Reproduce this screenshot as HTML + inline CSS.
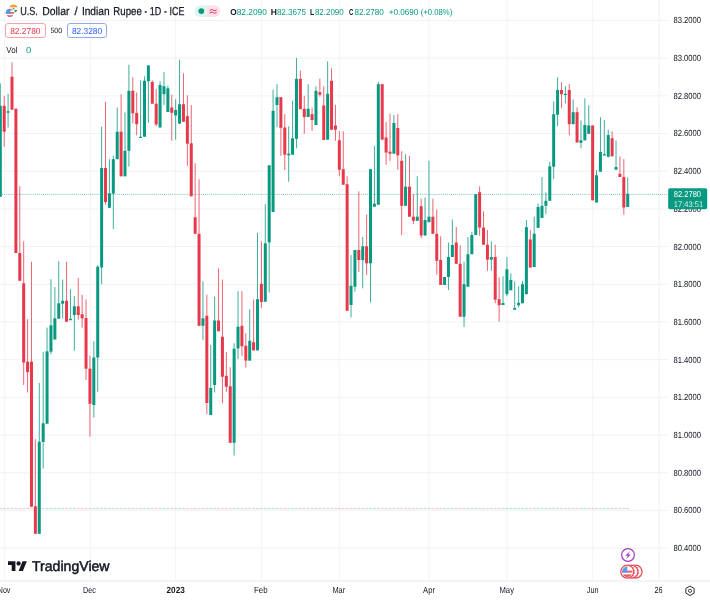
<!DOCTYPE html>
<html><head><meta charset="utf-8">
<style>
html,body{margin:0;padding:0;background:#fff;}
body{width:710px;height:600px;overflow:hidden;position:relative;font-family:"Liberation Sans",sans-serif;color:#131722;}
#chart{position:absolute;left:0;top:0;width:710px;height:600px;}
.pl{position:absolute;left:673.5px;width:38px;transform:scaleX(.935);transform-origin:0 0;height:12px;line-height:12px;font-size:8.3px;color:#131722;white-space:nowrap;}
.tl{position:absolute;top:584px;width:40px;text-align:center;height:12px;line-height:12px;font-size:8.3px;color:#131722;white-space:nowrap;}
.tl.b{font-weight:bold;}
#title{position:absolute;left:20.2px;top:3px;height:16px;line-height:16px;font-size:11.2px;color:#131722;white-space:nowrap;transform:scaleX(.955);transform-origin:0 0;-webkit-text-stroke:0.2px #131722;}
#ohlc{position:absolute;left:232px;top:5px;height:12px;line-height:12px;font-size:8.3px;color:#089981;white-space:nowrap;}
#ohlc b{color:#131722;font-weight:normal;}
#ohlc span{margin-right:3.5px;}
.btn{position:absolute;top:22.6px;height:13.7px;width:38.5px;border:1px solid;border-radius:3px;line-height:15px;font-size:8.3px;text-align:center;background:none;box-sizing:content-box;}
#sell{left:5.1px;border-color:#f7a1a9;color:#f23645;}
#buy{left:66.8px;border-color:#8fa9f5;color:#2962ff;}
#spread{position:absolute;left:46px;top:23px;width:21px;text-align:center;font-size:7.2px;line-height:15px;color:#131722;}
#vol{position:absolute;left:6px;top:43px;font-size:8.3px;line-height:12px;color:#131722;}
#vol0{position:absolute;left:26px;top:43px;font-size:8.3px;line-height:12px;color:#089981;}
#pbox{position:absolute;left:668.2px;top:188.2px;width:39px;height:21px;background:#089981;color:#fff;font-size:8.3px;line-height:9.5px;padding:1.2px 0 0 5.3px;box-sizing:border-box;border-radius:1.5px;}
#pbox div+div{color:#c9ebe4;font-size:8px;}
#pill{position:absolute;left:194.1px;top:5.1px;width:26px;height:12px;border-radius:6px;background:linear-gradient(90deg,#e0f3ef 0,#e0f3ef 50%,#fce4ec 50%,#fce4ec 100%);}
#pill i{position:absolute;left:4.5px;top:3.2px;width:5.6px;height:5.6px;border-radius:50%;background:#089981;}
#pill u{position:absolute;left:15.8px;top:0;height:12px;line-height:11px;font-size:9.5px;color:#e91e63;text-decoration:none;font-weight:bold;}
#logo{position:absolute;left:8.1px;top:559.1px;}
#logotxt{position:absolute;left:31.5px;top:556.6px;font-size:13.7px;line-height:20px;font-weight:bold;color:#131722;transform:scaleX(.975);transform-origin:0 0;}
.t{position:absolute;will-change:transform;line-height:1;white-space:nowrap;transform-origin:0 0;display:block;}
</style></head><body>
<svg id="chart" width="710" height="600" viewBox="0 0 710 600" shape-rendering="auto">
<rect x="0" y="19.95" width="668" height="1" fill="#f2f2f4"/>
<rect x="0" y="57.64" width="668" height="1" fill="#f2f2f4"/>
<rect x="0" y="95.33" width="668" height="1" fill="#f2f2f4"/>
<rect x="0" y="133.02" width="668" height="1" fill="#f2f2f4"/>
<rect x="0" y="170.71" width="668" height="1" fill="#f2f2f4"/>
<rect x="0" y="208.40" width="668" height="1" fill="#f2f2f4"/>
<rect x="0" y="246.09" width="668" height="1" fill="#f2f2f4"/>
<rect x="0" y="283.78" width="668" height="1" fill="#f2f2f4"/>
<rect x="0" y="321.47" width="668" height="1" fill="#f2f2f4"/>
<rect x="0" y="359.16" width="668" height="1" fill="#f2f2f4"/>
<rect x="0" y="396.85" width="668" height="1" fill="#f2f2f4"/>
<rect x="0" y="434.54" width="668" height="1" fill="#f2f2f4"/>
<rect x="0" y="472.23" width="668" height="1" fill="#f2f2f4"/>
<rect x="0" y="509.92" width="668" height="1" fill="#f2f2f4"/>
<rect x="0" y="547.61" width="668" height="1" fill="#f2f2f4"/>
<rect x="4.20" y="0" width="1" height="581" fill="#f4f4f6"/>
<rect x="90.00" y="0" width="1" height="581" fill="#f4f4f6"/>
<rect x="175.00" y="0" width="1" height="581" fill="#f4f4f6"/>
<rect x="261.00" y="0" width="1" height="581" fill="#f4f4f6"/>
<rect x="338.80" y="0" width="1" height="581" fill="#f4f4f6"/>
<rect x="428.50" y="0" width="1" height="581" fill="#f4f4f6"/>
<rect x="506.50" y="0" width="1" height="581" fill="#f4f4f6"/>
<rect x="592.20" y="0" width="1" height="581" fill="#f4f4f6"/>
<rect x="0" y="580.5" width="710" height="1" fill="#e8e9ed"/>
<rect x="658.6" y="0" width="1" height="581" fill="#f1f1f3"/>
<clipPath id="pl"><rect x="194.4" y="5.3" width="25.9" height="11.7" rx="5.85"/></clipPath>
<g clip-path="url(#pl)"><rect x="194" y="5" width="12.6" height="13" fill="#dff3ef"/><rect x="206.6" y="5" width="14" height="13" fill="#fce1ea"/></g>
<circle cx="201.3" cy="11.1" r="2.85" fill="#089981"/>
<!-- current price dotted line -->
<line x1="0" y1="194.4" x2="667.5" y2="194.4" stroke="#089981" stroke-width="1" stroke-dasharray="1 1.05" opacity=".55"/>
<rect x="-1.20" y="508.1" width="3.0" height="1" fill="#089981" opacity=".3"/>
<rect x="2.70" y="508.1" width="3.0" height="1" fill="#e8384b" opacity=".3"/>
<rect x="6.59" y="508.1" width="3.0" height="1" fill="#089981" opacity=".3"/>
<rect x="10.49" y="508.1" width="3.0" height="1" fill="#e8384b" opacity=".3"/>
<rect x="14.39" y="508.1" width="3.0" height="1" fill="#e8384b" opacity=".3"/>
<rect x="18.29" y="508.1" width="3.0" height="1" fill="#e8384b" opacity=".3"/>
<rect x="22.18" y="508.1" width="3.0" height="1" fill="#e8384b" opacity=".3"/>
<rect x="26.08" y="508.1" width="3.0" height="1" fill="#e8384b" opacity=".3"/>
<rect x="29.98" y="508.1" width="3.0" height="1" fill="#e8384b" opacity=".3"/>
<rect x="33.87" y="508.1" width="3.0" height="1" fill="#e8384b" opacity=".3"/>
<rect x="37.77" y="508.1" width="3.0" height="1" fill="#089981" opacity=".3"/>
<rect x="41.67" y="508.1" width="3.0" height="1" fill="#089981" opacity=".3"/>
<rect x="45.56" y="508.1" width="3.0" height="1" fill="#089981" opacity=".3"/>
<rect x="49.46" y="508.1" width="3.0" height="1" fill="#089981" opacity=".3"/>
<rect x="53.36" y="508.1" width="3.0" height="1" fill="#089981" opacity=".3"/>
<rect x="57.25" y="508.1" width="3.0" height="1" fill="#089981" opacity=".3"/>
<rect x="61.15" y="508.1" width="3.0" height="1" fill="#089981" opacity=".3"/>
<rect x="65.05" y="508.1" width="3.0" height="1" fill="#e8384b" opacity=".3"/>
<rect x="68.95" y="508.1" width="3.0" height="1" fill="#089981" opacity=".3"/>
<rect x="72.84" y="508.1" width="3.0" height="1" fill="#089981" opacity=".3"/>
<rect x="76.74" y="508.1" width="3.0" height="1" fill="#e8384b" opacity=".3"/>
<rect x="80.64" y="508.1" width="3.0" height="1" fill="#e8384b" opacity=".3"/>
<rect x="84.53" y="508.1" width="3.0" height="1" fill="#e8384b" opacity=".3"/>
<rect x="88.43" y="508.1" width="3.0" height="1" fill="#e8384b" opacity=".3"/>
<rect x="92.33" y="508.1" width="3.0" height="1" fill="#089981" opacity=".3"/>
<rect x="96.22" y="508.1" width="3.0" height="1" fill="#089981" opacity=".3"/>
<rect x="100.12" y="508.1" width="3.0" height="1" fill="#089981" opacity=".3"/>
<rect x="104.02" y="508.1" width="3.0" height="1" fill="#e8384b" opacity=".3"/>
<rect x="107.92" y="508.1" width="3.0" height="1" fill="#089981" opacity=".3"/>
<rect x="111.81" y="508.1" width="3.0" height="1" fill="#089981" opacity=".3"/>
<rect x="115.71" y="508.1" width="3.0" height="1" fill="#089981" opacity=".3"/>
<rect x="119.61" y="508.1" width="3.0" height="1" fill="#e8384b" opacity=".3"/>
<rect x="123.50" y="508.1" width="3.0" height="1" fill="#089981" opacity=".3"/>
<rect x="127.40" y="508.1" width="3.0" height="1" fill="#089981" opacity=".3"/>
<rect x="131.30" y="508.1" width="3.0" height="1" fill="#e8384b" opacity=".3"/>
<rect x="135.19" y="508.1" width="3.0" height="1" fill="#e8384b" opacity=".3"/>
<rect x="139.09" y="508.1" width="3.0" height="1" fill="#089981" opacity=".3"/>
<rect x="142.99" y="508.1" width="3.0" height="1" fill="#089981" opacity=".3"/>
<rect x="146.89" y="508.1" width="3.0" height="1" fill="#089981" opacity=".3"/>
<rect x="150.78" y="508.1" width="3.0" height="1" fill="#e8384b" opacity=".3"/>
<rect x="154.68" y="508.1" width="3.0" height="1" fill="#e8384b" opacity=".3"/>
<rect x="158.58" y="508.1" width="3.0" height="1" fill="#089981" opacity=".3"/>
<rect x="162.47" y="508.1" width="3.0" height="1" fill="#089981" opacity=".3"/>
<rect x="166.37" y="508.1" width="3.0" height="1" fill="#089981" opacity=".3"/>
<rect x="170.27" y="508.1" width="3.0" height="1" fill="#e8384b" opacity=".3"/>
<rect x="174.16" y="508.1" width="3.0" height="1" fill="#089981" opacity=".3"/>
<rect x="178.06" y="508.1" width="3.0" height="1" fill="#089981" opacity=".3"/>
<rect x="181.96" y="508.1" width="3.0" height="1" fill="#e8384b" opacity=".3"/>
<rect x="185.86" y="508.1" width="3.0" height="1" fill="#e8384b" opacity=".3"/>
<rect x="189.75" y="508.1" width="3.0" height="1" fill="#e8384b" opacity=".3"/>
<rect x="193.65" y="508.1" width="3.0" height="1" fill="#e8384b" opacity=".3"/>
<rect x="197.55" y="508.1" width="3.0" height="1" fill="#e8384b" opacity=".3"/>
<rect x="201.44" y="508.1" width="3.0" height="1" fill="#089981" opacity=".3"/>
<rect x="205.34" y="508.1" width="3.0" height="1" fill="#e8384b" opacity=".3"/>
<rect x="209.24" y="508.1" width="3.0" height="1" fill="#089981" opacity=".3"/>
<rect x="213.13" y="508.1" width="3.0" height="1" fill="#089981" opacity=".3"/>
<rect x="217.03" y="508.1" width="3.0" height="1" fill="#e8384b" opacity=".3"/>
<rect x="220.93" y="508.1" width="3.0" height="1" fill="#e8384b" opacity=".3"/>
<rect x="224.83" y="508.1" width="3.0" height="1" fill="#e8384b" opacity=".3"/>
<rect x="228.72" y="508.1" width="3.0" height="1" fill="#e8384b" opacity=".3"/>
<rect x="232.62" y="508.1" width="3.0" height="1" fill="#089981" opacity=".3"/>
<rect x="236.52" y="508.1" width="3.0" height="1" fill="#089981" opacity=".3"/>
<rect x="240.41" y="508.1" width="3.0" height="1" fill="#e8384b" opacity=".3"/>
<rect x="244.31" y="508.1" width="3.0" height="1" fill="#e8384b" opacity=".3"/>
<rect x="248.21" y="508.1" width="3.0" height="1" fill="#089981" opacity=".3"/>
<rect x="252.10" y="508.1" width="3.0" height="1" fill="#e8384b" opacity=".3"/>
<rect x="256.00" y="508.1" width="3.0" height="1" fill="#089981" opacity=".3"/>
<rect x="259.90" y="508.1" width="3.0" height="1" fill="#e8384b" opacity=".3"/>
<rect x="263.80" y="508.1" width="3.0" height="1" fill="#089981" opacity=".3"/>
<rect x="267.69" y="508.1" width="3.0" height="1" fill="#089981" opacity=".3"/>
<rect x="271.59" y="508.1" width="3.0" height="1" fill="#089981" opacity=".3"/>
<rect x="275.49" y="508.1" width="3.0" height="1" fill="#089981" opacity=".3"/>
<rect x="279.38" y="508.1" width="3.0" height="1" fill="#e8384b" opacity=".3"/>
<rect x="283.28" y="508.1" width="3.0" height="1" fill="#e8384b" opacity=".3"/>
<rect x="287.18" y="508.1" width="3.0" height="1" fill="#089981" opacity=".3"/>
<rect x="291.07" y="508.1" width="3.0" height="1" fill="#089981" opacity=".3"/>
<rect x="294.97" y="508.1" width="3.0" height="1" fill="#089981" opacity=".3"/>
<rect x="298.87" y="508.1" width="3.0" height="1" fill="#e8384b" opacity=".3"/>
<rect x="302.77" y="508.1" width="3.0" height="1" fill="#e8384b" opacity=".3"/>
<rect x="306.66" y="508.1" width="3.0" height="1" fill="#089981" opacity=".3"/>
<rect x="310.56" y="508.1" width="3.0" height="1" fill="#e8384b" opacity=".3"/>
<rect x="314.46" y="508.1" width="3.0" height="1" fill="#089981" opacity=".3"/>
<rect x="318.35" y="508.1" width="3.0" height="1" fill="#e8384b" opacity=".3"/>
<rect x="322.25" y="508.1" width="3.0" height="1" fill="#e8384b" opacity=".3"/>
<rect x="326.15" y="508.1" width="3.0" height="1" fill="#089981" opacity=".3"/>
<rect x="330.05" y="508.1" width="3.0" height="1" fill="#e8384b" opacity=".3"/>
<rect x="333.94" y="508.1" width="3.0" height="1" fill="#e8384b" opacity=".3"/>
<rect x="337.84" y="508.1" width="3.0" height="1" fill="#e8384b" opacity=".3"/>
<rect x="341.74" y="508.1" width="3.0" height="1" fill="#e8384b" opacity=".3"/>
<rect x="345.63" y="508.1" width="3.0" height="1" fill="#e8384b" opacity=".3"/>
<rect x="349.53" y="508.1" width="3.0" height="1" fill="#089981" opacity=".3"/>
<rect x="353.43" y="508.1" width="3.0" height="1" fill="#089981" opacity=".3"/>
<rect x="357.32" y="508.1" width="3.0" height="1" fill="#e8384b" opacity=".3"/>
<rect x="361.22" y="508.1" width="3.0" height="1" fill="#089981" opacity=".3"/>
<rect x="365.12" y="508.1" width="3.0" height="1" fill="#e8384b" opacity=".3"/>
<rect x="369.01" y="508.1" width="3.0" height="1" fill="#089981" opacity=".3"/>
<rect x="372.91" y="508.1" width="3.0" height="1" fill="#089981" opacity=".3"/>
<rect x="376.81" y="508.1" width="3.0" height="1" fill="#089981" opacity=".3"/>
<rect x="380.71" y="508.1" width="3.0" height="1" fill="#e8384b" opacity=".3"/>
<rect x="384.60" y="508.1" width="3.0" height="1" fill="#e8384b" opacity=".3"/>
<rect x="388.50" y="508.1" width="3.0" height="1" fill="#e8384b" opacity=".3"/>
<rect x="392.40" y="508.1" width="3.0" height="1" fill="#089981" opacity=".3"/>
<rect x="396.29" y="508.1" width="3.0" height="1" fill="#e8384b" opacity=".3"/>
<rect x="400.19" y="508.1" width="3.0" height="1" fill="#e8384b" opacity=".3"/>
<rect x="404.09" y="508.1" width="3.0" height="1" fill="#089981" opacity=".3"/>
<rect x="407.99" y="508.1" width="3.0" height="1" fill="#e8384b" opacity=".3"/>
<rect x="411.88" y="508.1" width="3.0" height="1" fill="#e8384b" opacity=".3"/>
<rect x="415.78" y="508.1" width="3.0" height="1" fill="#089981" opacity=".3"/>
<rect x="419.68" y="508.1" width="3.0" height="1" fill="#e8384b" opacity=".3"/>
<rect x="423.57" y="508.1" width="3.0" height="1" fill="#089981" opacity=".3"/>
<rect x="427.47" y="508.1" width="3.0" height="1" fill="#089981" opacity=".3"/>
<rect x="431.37" y="508.1" width="3.0" height="1" fill="#e8384b" opacity=".3"/>
<rect x="435.26" y="508.1" width="3.0" height="1" fill="#e8384b" opacity=".3"/>
<rect x="439.16" y="508.1" width="3.0" height="1" fill="#e8384b" opacity=".3"/>
<rect x="443.06" y="508.1" width="3.0" height="1" fill="#089981" opacity=".3"/>
<rect x="446.95" y="508.1" width="3.0" height="1" fill="#089981" opacity=".3"/>
<rect x="450.85" y="508.1" width="3.0" height="1" fill="#089981" opacity=".3"/>
<rect x="454.75" y="508.1" width="3.0" height="1" fill="#e8384b" opacity=".3"/>
<rect x="458.65" y="508.1" width="3.0" height="1" fill="#e8384b" opacity=".3"/>
<rect x="462.54" y="508.1" width="3.0" height="1" fill="#089981" opacity=".3"/>
<rect x="466.44" y="508.1" width="3.0" height="1" fill="#089981" opacity=".3"/>
<rect x="470.34" y="508.1" width="3.0" height="1" fill="#089981" opacity=".3"/>
<rect x="474.23" y="508.1" width="3.0" height="1" fill="#089981" opacity=".3"/>
<rect x="478.13" y="508.1" width="3.0" height="1" fill="#e8384b" opacity=".3"/>
<rect x="482.03" y="508.1" width="3.0" height="1" fill="#e8384b" opacity=".3"/>
<rect x="485.93" y="508.1" width="3.0" height="1" fill="#e8384b" opacity=".3"/>
<rect x="489.82" y="508.1" width="3.0" height="1" fill="#089981" opacity=".3"/>
<rect x="493.72" y="508.1" width="3.0" height="1" fill="#e8384b" opacity=".3"/>
<rect x="497.62" y="508.1" width="3.0" height="1" fill="#e8384b" opacity=".3"/>
<rect x="501.51" y="508.1" width="3.0" height="1" fill="#089981" opacity=".3"/>
<rect x="505.41" y="508.1" width="3.0" height="1" fill="#089981" opacity=".3"/>
<rect x="509.31" y="508.1" width="3.0" height="1" fill="#089981" opacity=".3"/>
<rect x="513.20" y="508.1" width="3.0" height="1" fill="#089981" opacity=".3"/>
<rect x="517.10" y="508.1" width="3.0" height="1" fill="#089981" opacity=".3"/>
<rect x="521.00" y="508.1" width="3.0" height="1" fill="#089981" opacity=".3"/>
<rect x="524.89" y="508.1" width="3.0" height="1" fill="#089981" opacity=".3"/>
<rect x="528.79" y="508.1" width="3.0" height="1" fill="#e8384b" opacity=".3"/>
<rect x="532.69" y="508.1" width="3.0" height="1" fill="#089981" opacity=".3"/>
<rect x="536.59" y="508.1" width="3.0" height="1" fill="#089981" opacity=".3"/>
<rect x="540.48" y="508.1" width="3.0" height="1" fill="#089981" opacity=".3"/>
<rect x="544.38" y="508.1" width="3.0" height="1" fill="#089981" opacity=".3"/>
<rect x="548.28" y="508.1" width="3.0" height="1" fill="#089981" opacity=".3"/>
<rect x="552.17" y="508.1" width="3.0" height="1" fill="#089981" opacity=".3"/>
<rect x="556.07" y="508.1" width="3.0" height="1" fill="#089981" opacity=".3"/>
<rect x="559.97" y="508.1" width="3.0" height="1" fill="#e8384b" opacity=".3"/>
<rect x="563.86" y="508.1" width="3.0" height="1" fill="#089981" opacity=".3"/>
<rect x="567.76" y="508.1" width="3.0" height="1" fill="#e8384b" opacity=".3"/>
<rect x="571.66" y="508.1" width="3.0" height="1" fill="#089981" opacity=".3"/>
<rect x="575.56" y="508.1" width="3.0" height="1" fill="#e8384b" opacity=".3"/>
<rect x="579.45" y="508.1" width="3.0" height="1" fill="#089981" opacity=".3"/>
<rect x="583.35" y="508.1" width="3.0" height="1" fill="#089981" opacity=".3"/>
<rect x="587.25" y="508.1" width="3.0" height="1" fill="#089981" opacity=".3"/>
<rect x="591.14" y="508.1" width="3.0" height="1" fill="#e8384b" opacity=".3"/>
<rect x="595.04" y="508.1" width="3.0" height="1" fill="#089981" opacity=".3"/>
<rect x="598.94" y="508.1" width="3.0" height="1" fill="#089981" opacity=".3"/>
<rect x="602.83" y="508.1" width="3.0" height="1" fill="#089981" opacity=".3"/>
<rect x="606.73" y="508.1" width="3.0" height="1" fill="#089981" opacity=".3"/>
<rect x="610.63" y="508.1" width="3.0" height="1" fill="#e8384b" opacity=".3"/>
<rect x="614.53" y="508.1" width="3.0" height="1" fill="#089981" opacity=".3"/>
<rect x="618.42" y="508.1" width="3.0" height="1" fill="#e8384b" opacity=".3"/>
<rect x="622.32" y="508.1" width="3.0" height="1" fill="#e8384b" opacity=".3"/>
<rect x="626.22" y="508.1" width="3.0" height="1" fill="#089981" opacity=".3"/>
<rect x="-0.20" y="83.3" width="1" height="113.4" fill="#089981" opacity=".78"/>
<rect x="-1.20" y="105.8" width="3.0" height="90.9" fill="#089981"/>
<rect x="3.70" y="95.8" width="1" height="50.9" fill="#e8384b" opacity=".78"/>
<rect x="2.70" y="105.8" width="3.0" height="25.9" fill="#e8384b"/>
<rect x="7.59" y="93.7" width="1" height="33.8" fill="#089981" opacity=".78"/>
<rect x="6.59" y="111.3" width="3.0" height="1.4" fill="#089981"/>
<rect x="11.49" y="62.5" width="1" height="47.2" fill="#e8384b" opacity=".78"/>
<rect x="10.49" y="76.7" width="3.0" height="33.0" fill="#e8384b"/>
<rect x="15.39" y="108.7" width="1" height="144.3" fill="#e8384b" opacity=".78"/>
<rect x="14.39" y="108.7" width="3.0" height="144.3" fill="#e8384b"/>
<rect x="19.29" y="186.3" width="1" height="94.5" fill="#e8384b" opacity=".78"/>
<rect x="18.29" y="253.0" width="3.0" height="27.8" fill="#e8384b"/>
<rect x="23.18" y="241.3" width="1" height="143.7" fill="#e8384b" opacity=".78"/>
<rect x="22.18" y="283.3" width="3.0" height="79.2" fill="#e8384b"/>
<rect x="27.08" y="319.2" width="1" height="73.3" fill="#e8384b" opacity=".78"/>
<rect x="26.08" y="361.7" width="3.0" height="10.5" fill="#e8384b"/>
<rect x="30.98" y="261.7" width="1" height="245.0" fill="#e8384b" opacity=".78"/>
<rect x="29.98" y="361.7" width="3.0" height="145.0" fill="#e8384b"/>
<rect x="34.87" y="439.2" width="1" height="94.6" fill="#e8384b" opacity=".78"/>
<rect x="33.87" y="506.3" width="3.0" height="27.5" fill="#e8384b"/>
<rect x="38.77" y="383.0" width="1" height="150.8" fill="#089981" opacity=".78"/>
<rect x="37.77" y="441.7" width="3.0" height="92.1" fill="#089981"/>
<rect x="42.67" y="351.7" width="1" height="117.0" fill="#089981" opacity=".78"/>
<rect x="41.67" y="423.3" width="3.0" height="18.7" fill="#089981"/>
<rect x="46.56" y="327.5" width="1" height="96.2" fill="#089981" opacity=".78"/>
<rect x="45.56" y="351.3" width="3.0" height="72.4" fill="#089981"/>
<rect x="50.46" y="279.2" width="1" height="75.0" fill="#089981" opacity=".78"/>
<rect x="49.46" y="325.3" width="3.0" height="26.4" fill="#089981"/>
<rect x="54.36" y="287.0" width="1" height="52.5" fill="#089981" opacity=".78"/>
<rect x="53.36" y="318.3" width="3.0" height="21.2" fill="#089981"/>
<rect x="58.25" y="261.2" width="1" height="57.5" fill="#089981" opacity=".78"/>
<rect x="57.25" y="303.3" width="3.0" height="15.4" fill="#089981"/>
<rect x="62.15" y="279.5" width="1" height="38.8" fill="#089981" opacity=".78"/>
<rect x="61.15" y="300.8" width="3.0" height="2.9" fill="#089981"/>
<rect x="66.05" y="261.7" width="1" height="60.0" fill="#e8384b" opacity=".78"/>
<rect x="65.05" y="300.8" width="3.0" height="20.9" fill="#e8384b"/>
<rect x="69.95" y="289.2" width="1" height="31.0" fill="#089981" opacity=".78"/>
<rect x="68.95" y="318.8" width="3.0" height="1.4" fill="#089981"/>
<rect x="73.84" y="296.2" width="1" height="54.6" fill="#089981" opacity=".78"/>
<rect x="72.84" y="306.3" width="3.0" height="8.7" fill="#089981"/>
<rect x="77.74" y="278.0" width="1" height="41.7" fill="#e8384b" opacity=".78"/>
<rect x="76.74" y="306.3" width="3.0" height="8.7" fill="#e8384b"/>
<rect x="81.64" y="294.7" width="1" height="32.8" fill="#e8384b" opacity=".78"/>
<rect x="80.64" y="314.2" width="3.0" height="4.1" fill="#e8384b"/>
<rect x="85.53" y="299.5" width="1" height="80.5" fill="#e8384b" opacity=".78"/>
<rect x="84.53" y="318.0" width="3.0" height="50.7" fill="#e8384b"/>
<rect x="89.43" y="355.8" width="1" height="80.9" fill="#e8384b" opacity=".78"/>
<rect x="88.43" y="368.7" width="3.0" height="35.1" fill="#e8384b"/>
<rect x="93.33" y="341.2" width="1" height="76.3" fill="#089981" opacity=".78"/>
<rect x="92.33" y="357.5" width="3.0" height="47.5" fill="#089981"/>
<rect x="97.22" y="265.0" width="1" height="126.7" fill="#089981" opacity=".78"/>
<rect x="96.22" y="266.7" width="3.0" height="90.8" fill="#089981"/>
<rect x="101.12" y="126.7" width="1" height="157.5" fill="#089981" opacity=".78"/>
<rect x="100.12" y="168.0" width="3.0" height="99.5" fill="#089981"/>
<rect x="105.02" y="102.0" width="1" height="102.7" fill="#e8384b" opacity=".78"/>
<rect x="104.02" y="168.0" width="3.0" height="34.0" fill="#e8384b"/>
<rect x="108.92" y="159.2" width="1" height="48.6" fill="#089981" opacity=".78"/>
<rect x="107.92" y="193.3" width="3.0" height="14.5" fill="#089981"/>
<rect x="112.81" y="155.8" width="1" height="73.4" fill="#089981" opacity=".78"/>
<rect x="111.81" y="159.2" width="3.0" height="34.5" fill="#089981"/>
<rect x="116.71" y="107.5" width="1" height="51.7" fill="#089981" opacity=".78"/>
<rect x="115.71" y="131.7" width="3.0" height="27.5" fill="#089981"/>
<rect x="120.61" y="94.2" width="1" height="82.1" fill="#e8384b" opacity=".78"/>
<rect x="119.61" y="131.7" width="3.0" height="44.6" fill="#e8384b"/>
<rect x="124.50" y="112.5" width="1" height="63.8" fill="#089981" opacity=".78"/>
<rect x="123.50" y="150.8" width="3.0" height="25.5" fill="#089981"/>
<rect x="128.40" y="64.7" width="1" height="102.0" fill="#089981" opacity=".78"/>
<rect x="127.40" y="90.8" width="3.0" height="60.0" fill="#089981"/>
<rect x="132.30" y="77.5" width="1" height="45.8" fill="#e8384b" opacity=".78"/>
<rect x="131.30" y="90.8" width="3.0" height="22.5" fill="#e8384b"/>
<rect x="136.19" y="92.5" width="1" height="42.8" fill="#e8384b" opacity=".78"/>
<rect x="135.19" y="113.0" width="3.0" height="11.2" fill="#e8384b"/>
<rect x="140.09" y="80.3" width="1" height="57.7" fill="#089981" opacity=".78"/>
<rect x="139.09" y="136.8" width="3.0" height="1.2" fill="#089981"/>
<rect x="143.99" y="76.3" width="1" height="60.4" fill="#089981" opacity=".78"/>
<rect x="142.99" y="80.8" width="3.0" height="55.9" fill="#089981"/>
<rect x="147.89" y="65.0" width="1" height="57.8" fill="#089981" opacity=".78"/>
<rect x="146.89" y="65.5" width="3.0" height="15.7" fill="#089981"/>
<rect x="151.78" y="80.3" width="1" height="23.4" fill="#e8384b" opacity=".78"/>
<rect x="150.78" y="82.0" width="3.0" height="21.7" fill="#e8384b"/>
<rect x="155.68" y="89.2" width="1" height="37.1" fill="#e8384b" opacity=".78"/>
<rect x="154.68" y="103.7" width="3.0" height="20.8" fill="#e8384b"/>
<rect x="159.58" y="81.2" width="1" height="46.3" fill="#089981" opacity=".78"/>
<rect x="158.58" y="85.0" width="3.0" height="42.5" fill="#089981"/>
<rect x="163.47" y="72.0" width="1" height="33.0" fill="#089981" opacity=".78"/>
<rect x="162.47" y="86.2" width="3.0" height="8.0" fill="#089981"/>
<rect x="167.37" y="85.8" width="1" height="26.2" fill="#089981" opacity=".78"/>
<rect x="166.37" y="88.3" width="3.0" height="23.7" fill="#089981"/>
<rect x="171.27" y="94.7" width="1" height="46.1" fill="#e8384b" opacity=".78"/>
<rect x="170.27" y="107.5" width="3.0" height="5.3" fill="#e8384b"/>
<rect x="175.16" y="99.2" width="1" height="40.5" fill="#089981" opacity=".78"/>
<rect x="174.16" y="110.0" width="3.0" height="5.5" fill="#089981"/>
<rect x="179.06" y="59.7" width="1" height="64.0" fill="#089981" opacity=".78"/>
<rect x="178.06" y="104.2" width="3.0" height="19.5" fill="#089981"/>
<rect x="182.96" y="73.3" width="1" height="48.4" fill="#e8384b" opacity=".78"/>
<rect x="181.96" y="104.2" width="3.0" height="17.5" fill="#e8384b"/>
<rect x="186.86" y="95.3" width="1" height="70.5" fill="#e8384b" opacity=".78"/>
<rect x="185.86" y="116.2" width="3.0" height="27.5" fill="#e8384b"/>
<rect x="190.75" y="105.0" width="1" height="91.3" fill="#e8384b" opacity=".78"/>
<rect x="189.75" y="143.3" width="3.0" height="53.0" fill="#e8384b"/>
<rect x="194.65" y="163.0" width="1" height="70.8" fill="#e8384b" opacity=".78"/>
<rect x="193.65" y="217.2" width="3.0" height="16.6" fill="#e8384b"/>
<rect x="198.55" y="179.2" width="1" height="146.6" fill="#e8384b" opacity=".78"/>
<rect x="197.55" y="233.8" width="3.0" height="92.0" fill="#e8384b"/>
<rect x="202.44" y="281.3" width="1" height="58.7" fill="#089981" opacity=".78"/>
<rect x="201.44" y="318.3" width="3.0" height="7.5" fill="#089981"/>
<rect x="206.34" y="294.7" width="1" height="119.5" fill="#e8384b" opacity=".78"/>
<rect x="205.34" y="315.8" width="3.0" height="87.2" fill="#e8384b"/>
<rect x="210.24" y="345.0" width="1" height="70.0" fill="#089981" opacity=".78"/>
<rect x="209.24" y="388.0" width="3.0" height="27.0" fill="#089981"/>
<rect x="214.13" y="296.7" width="1" height="95.8" fill="#089981" opacity=".78"/>
<rect x="213.13" y="320.5" width="3.0" height="64.5" fill="#089981"/>
<rect x="218.03" y="268.3" width="1" height="62.9" fill="#e8384b" opacity=".78"/>
<rect x="217.03" y="320.5" width="3.0" height="10.7" fill="#e8384b"/>
<rect x="221.93" y="279.5" width="1" height="123.8" fill="#e8384b" opacity=".78"/>
<rect x="220.93" y="336.7" width="3.0" height="40.0" fill="#e8384b"/>
<rect x="225.83" y="352.0" width="1" height="39.7" fill="#e8384b" opacity=".78"/>
<rect x="224.83" y="375.8" width="3.0" height="10.9" fill="#e8384b"/>
<rect x="229.72" y="367.2" width="1" height="75.6" fill="#e8384b" opacity=".78"/>
<rect x="228.72" y="386.3" width="3.0" height="56.5" fill="#e8384b"/>
<rect x="233.62" y="343.3" width="1" height="112.3" fill="#089981" opacity=".78"/>
<rect x="232.62" y="348.7" width="3.0" height="94.1" fill="#089981"/>
<rect x="237.52" y="291.3" width="1" height="67.7" fill="#089981" opacity=".78"/>
<rect x="236.52" y="326.7" width="3.0" height="21.7" fill="#089981"/>
<rect x="241.41" y="291.3" width="1" height="64.7" fill="#e8384b" opacity=".78"/>
<rect x="240.41" y="325.8" width="3.0" height="20.5" fill="#e8384b"/>
<rect x="245.31" y="333.3" width="1" height="34.3" fill="#e8384b" opacity=".78"/>
<rect x="244.31" y="345.8" width="3.0" height="14.8" fill="#e8384b"/>
<rect x="249.21" y="309.2" width="1" height="51.4" fill="#089981" opacity=".78"/>
<rect x="248.21" y="340.8" width="3.0" height="19.8" fill="#089981"/>
<rect x="253.10" y="299.5" width="1" height="50.9" fill="#e8384b" opacity=".78"/>
<rect x="252.10" y="342.2" width="3.0" height="8.2" fill="#e8384b"/>
<rect x="257.00" y="232.8" width="1" height="117.6" fill="#089981" opacity=".78"/>
<rect x="256.00" y="299.2" width="3.0" height="51.2" fill="#089981"/>
<rect x="260.90" y="241.3" width="1" height="66.7" fill="#e8384b" opacity=".78"/>
<rect x="259.90" y="283.8" width="3.0" height="18.2" fill="#e8384b"/>
<rect x="264.80" y="204.2" width="1" height="97.5" fill="#089981" opacity=".78"/>
<rect x="263.80" y="243.3" width="3.0" height="58.4" fill="#089981"/>
<rect x="268.69" y="165.3" width="1" height="127.2" fill="#089981" opacity=".78"/>
<rect x="267.69" y="165.3" width="3.0" height="77.2" fill="#089981"/>
<rect x="272.59" y="89.7" width="1" height="122.3" fill="#089981" opacity=".78"/>
<rect x="271.59" y="110.8" width="3.0" height="101.2" fill="#089981"/>
<rect x="276.49" y="84.2" width="1" height="42.8" fill="#089981" opacity=".78"/>
<rect x="275.49" y="97.2" width="3.0" height="7.8" fill="#089981"/>
<rect x="280.38" y="97.2" width="1" height="58.6" fill="#e8384b" opacity=".78"/>
<rect x="279.38" y="97.2" width="3.0" height="30.6" fill="#e8384b"/>
<rect x="284.28" y="114.2" width="1" height="55.8" fill="#e8384b" opacity=".78"/>
<rect x="283.28" y="127.5" width="3.0" height="27.2" fill="#e8384b"/>
<rect x="288.18" y="126.3" width="1" height="55.4" fill="#089981" opacity=".78"/>
<rect x="287.18" y="153.7" width="3.0" height="1.6" fill="#089981"/>
<rect x="292.07" y="100.8" width="1" height="53.9" fill="#089981" opacity=".78"/>
<rect x="291.07" y="138.3" width="3.0" height="16.4" fill="#089981"/>
<rect x="295.97" y="58.0" width="1" height="90.3" fill="#089981" opacity=".78"/>
<rect x="294.97" y="78.8" width="3.0" height="60.0" fill="#089981"/>
<rect x="299.87" y="70.5" width="1" height="38.7" fill="#e8384b" opacity=".78"/>
<rect x="298.87" y="78.8" width="3.0" height="30.4" fill="#e8384b"/>
<rect x="303.77" y="95.8" width="1" height="38.0" fill="#e8384b" opacity=".78"/>
<rect x="302.77" y="108.8" width="3.0" height="8.2" fill="#e8384b"/>
<rect x="307.66" y="84.2" width="1" height="32.8" fill="#089981" opacity=".78"/>
<rect x="306.66" y="108.8" width="3.0" height="8.2" fill="#089981"/>
<rect x="311.56" y="107.5" width="1" height="23.3" fill="#e8384b" opacity=".78"/>
<rect x="310.56" y="114.2" width="3.0" height="5.8" fill="#e8384b"/>
<rect x="315.46" y="86.3" width="1" height="38.7" fill="#089981" opacity=".78"/>
<rect x="314.46" y="90.8" width="3.0" height="34.2" fill="#089981"/>
<rect x="319.35" y="78.7" width="1" height="18.0" fill="#e8384b" opacity=".78"/>
<rect x="318.35" y="92.2" width="3.0" height="2.5" fill="#e8384b"/>
<rect x="323.25" y="86.3" width="1" height="53.7" fill="#e8384b" opacity=".78"/>
<rect x="322.25" y="105.5" width="3.0" height="34.5" fill="#e8384b"/>
<rect x="327.15" y="61.3" width="1" height="78.4" fill="#089981" opacity=".78"/>
<rect x="326.15" y="93.8" width="3.0" height="45.9" fill="#089981"/>
<rect x="331.05" y="68.3" width="1" height="61.4" fill="#e8384b" opacity=".78"/>
<rect x="330.05" y="80.8" width="3.0" height="48.9" fill="#e8384b"/>
<rect x="334.94" y="105.0" width="1" height="35.8" fill="#e8384b" opacity=".78"/>
<rect x="333.94" y="125.5" width="3.0" height="4.2" fill="#e8384b"/>
<rect x="338.84" y="131.2" width="1" height="45.1" fill="#e8384b" opacity=".78"/>
<rect x="337.84" y="140.3" width="3.0" height="29.4" fill="#e8384b"/>
<rect x="342.74" y="131.2" width="1" height="53.5" fill="#e8384b" opacity=".78"/>
<rect x="341.74" y="169.2" width="3.0" height="15.5" fill="#e8384b"/>
<rect x="346.63" y="176.3" width="1" height="134.5" fill="#e8384b" opacity=".78"/>
<rect x="345.63" y="184.2" width="3.0" height="126.6" fill="#e8384b"/>
<rect x="350.53" y="255.0" width="1" height="62.5" fill="#089981" opacity=".78"/>
<rect x="349.53" y="285.8" width="3.0" height="19.2" fill="#089981"/>
<rect x="354.43" y="250.0" width="1" height="41.7" fill="#089981" opacity=".78"/>
<rect x="353.43" y="250.0" width="3.0" height="36.7" fill="#089981"/>
<rect x="358.32" y="191.3" width="1" height="80.7" fill="#e8384b" opacity=".78"/>
<rect x="357.32" y="250.0" width="3.0" height="10.0" fill="#e8384b"/>
<rect x="362.22" y="237.0" width="1" height="51.3" fill="#089981" opacity=".78"/>
<rect x="361.22" y="246.3" width="3.0" height="13.7" fill="#089981"/>
<rect x="366.12" y="214.5" width="1" height="60.5" fill="#e8384b" opacity=".78"/>
<rect x="365.12" y="246.3" width="3.0" height="17.0" fill="#e8384b"/>
<rect x="370.01" y="168.8" width="1" height="133.7" fill="#089981" opacity=".78"/>
<rect x="369.01" y="169.2" width="3.0" height="94.1" fill="#089981"/>
<rect x="373.91" y="145.8" width="1" height="60.9" fill="#089981" opacity=".78"/>
<rect x="372.91" y="203.7" width="3.0" height="3.0" fill="#089981"/>
<rect x="377.81" y="82.0" width="1" height="122.7" fill="#089981" opacity=".78"/>
<rect x="376.81" y="84.2" width="3.0" height="120.5" fill="#089981"/>
<rect x="381.71" y="84.2" width="1" height="55.5" fill="#e8384b" opacity=".78"/>
<rect x="380.71" y="84.2" width="3.0" height="55.5" fill="#e8384b"/>
<rect x="385.60" y="122.0" width="1" height="42.7" fill="#e8384b" opacity=".78"/>
<rect x="384.60" y="137.5" width="3.0" height="15.0" fill="#e8384b"/>
<rect x="389.50" y="113.7" width="1" height="47.1" fill="#e8384b" opacity=".78"/>
<rect x="388.50" y="151.7" width="3.0" height="2.0" fill="#e8384b"/>
<rect x="393.40" y="115.0" width="1" height="38.7" fill="#089981" opacity=".78"/>
<rect x="392.40" y="123.0" width="3.0" height="30.7" fill="#089981"/>
<rect x="397.29" y="114.2" width="1" height="55.5" fill="#e8384b" opacity=".78"/>
<rect x="396.29" y="128.0" width="3.0" height="27.3" fill="#e8384b"/>
<rect x="401.19" y="151.2" width="1" height="84.1" fill="#e8384b" opacity=".78"/>
<rect x="400.19" y="160.8" width="3.0" height="45.0" fill="#e8384b"/>
<rect x="405.09" y="154.2" width="1" height="51.6" fill="#089981" opacity=".78"/>
<rect x="404.09" y="186.7" width="3.0" height="19.1" fill="#089981"/>
<rect x="408.99" y="155.8" width="1" height="60.9" fill="#e8384b" opacity=".78"/>
<rect x="407.99" y="186.7" width="3.0" height="30.0" fill="#e8384b"/>
<rect x="412.88" y="194.2" width="1" height="30.0" fill="#e8384b" opacity=".78"/>
<rect x="411.88" y="216.7" width="3.0" height="4.1" fill="#e8384b"/>
<rect x="416.78" y="176.2" width="1" height="44.6" fill="#089981" opacity=".78"/>
<rect x="415.78" y="216.7" width="3.0" height="4.1" fill="#089981"/>
<rect x="420.68" y="198.7" width="1" height="39.6" fill="#e8384b" opacity=".78"/>
<rect x="419.68" y="206.2" width="3.0" height="29.3" fill="#e8384b"/>
<rect x="424.57" y="197.5" width="1" height="38.0" fill="#089981" opacity=".78"/>
<rect x="423.57" y="220.0" width="3.0" height="15.5" fill="#089981"/>
<rect x="428.47" y="160.8" width="1" height="61.4" fill="#089981" opacity=".78"/>
<rect x="427.47" y="216.7" width="3.0" height="5.5" fill="#089981"/>
<rect x="432.37" y="198.7" width="1" height="35.1" fill="#e8384b" opacity=".78"/>
<rect x="431.37" y="216.7" width="3.0" height="17.1" fill="#e8384b"/>
<rect x="436.26" y="209.5" width="1" height="65.2" fill="#e8384b" opacity=".78"/>
<rect x="435.26" y="233.8" width="3.0" height="27.0" fill="#e8384b"/>
<rect x="440.16" y="236.3" width="1" height="48.7" fill="#e8384b" opacity=".78"/>
<rect x="439.16" y="260.0" width="3.0" height="25.0" fill="#e8384b"/>
<rect x="444.06" y="277.0" width="1" height="8.0" fill="#089981" opacity=".78"/>
<rect x="443.06" y="277.0" width="3.0" height="8.0" fill="#089981"/>
<rect x="447.95" y="242.5" width="1" height="47.5" fill="#089981" opacity=".78"/>
<rect x="446.95" y="257.0" width="3.0" height="20.0" fill="#089981"/>
<rect x="451.85" y="219.5" width="1" height="37.5" fill="#089981" opacity=".78"/>
<rect x="450.85" y="245.0" width="3.0" height="12.0" fill="#089981"/>
<rect x="455.75" y="227.0" width="1" height="36.8" fill="#e8384b" opacity=".78"/>
<rect x="454.75" y="242.5" width="3.0" height="21.3" fill="#e8384b"/>
<rect x="459.65" y="245.3" width="1" height="71.4" fill="#e8384b" opacity=".78"/>
<rect x="458.65" y="263.8" width="3.0" height="52.9" fill="#e8384b"/>
<rect x="463.54" y="261.7" width="1" height="65.3" fill="#089981" opacity=".78"/>
<rect x="462.54" y="284.2" width="3.0" height="32.5" fill="#089981"/>
<rect x="467.44" y="237.0" width="1" height="49.7" fill="#089981" opacity=".78"/>
<rect x="466.44" y="254.2" width="3.0" height="32.5" fill="#089981"/>
<rect x="471.34" y="231.7" width="1" height="22.5" fill="#089981" opacity=".78"/>
<rect x="470.34" y="235.0" width="3.0" height="19.2" fill="#089981"/>
<rect x="475.23" y="194.2" width="1" height="40.8" fill="#089981" opacity=".78"/>
<rect x="474.23" y="194.2" width="3.0" height="40.8" fill="#089981"/>
<rect x="479.13" y="186.3" width="1" height="49.5" fill="#e8384b" opacity=".78"/>
<rect x="478.13" y="192.2" width="3.0" height="35.3" fill="#e8384b"/>
<rect x="483.03" y="211.3" width="1" height="33.4" fill="#e8384b" opacity=".78"/>
<rect x="482.03" y="227.5" width="3.0" height="17.2" fill="#e8384b"/>
<rect x="486.93" y="230.0" width="1" height="40.8" fill="#e8384b" opacity=".78"/>
<rect x="485.93" y="244.7" width="3.0" height="15.0" fill="#e8384b"/>
<rect x="490.82" y="241.3" width="1" height="29.5" fill="#089981" opacity=".78"/>
<rect x="489.82" y="257.0" width="3.0" height="2.7" fill="#089981"/>
<rect x="494.72" y="244.7" width="1" height="58.6" fill="#e8384b" opacity=".78"/>
<rect x="493.72" y="257.0" width="3.0" height="42.7" fill="#e8384b"/>
<rect x="498.62" y="277.2" width="1" height="44.5" fill="#e8384b" opacity=".78"/>
<rect x="497.62" y="299.2" width="3.0" height="6.1" fill="#e8384b"/>
<rect x="502.51" y="276.3" width="1" height="28.7" fill="#089981" opacity=".78"/>
<rect x="501.51" y="303.0" width="3.0" height="2.0" fill="#089981"/>
<rect x="506.41" y="257.0" width="1" height="39.3" fill="#089981" opacity=".78"/>
<rect x="505.41" y="269.2" width="3.0" height="25.0" fill="#089981"/>
<rect x="510.31" y="273.3" width="1" height="17.0" fill="#089981" opacity=".78"/>
<rect x="509.31" y="280.0" width="3.0" height="10.3" fill="#089981"/>
<rect x="514.20" y="281.3" width="1" height="28.4" fill="#089981" opacity=".78"/>
<rect x="513.20" y="308.0" width="3.0" height="1.7" fill="#089981"/>
<rect x="518.10" y="286.3" width="1" height="21.2" fill="#089981" opacity=".78"/>
<rect x="517.10" y="302.8" width="3.0" height="2.5" fill="#089981"/>
<rect x="522.00" y="281.3" width="1" height="22.0" fill="#089981" opacity=".78"/>
<rect x="521.00" y="284.2" width="3.0" height="19.1" fill="#089981"/>
<rect x="525.89" y="220.0" width="1" height="74.2" fill="#089981" opacity=".78"/>
<rect x="524.89" y="227.2" width="3.0" height="67.0" fill="#089981"/>
<rect x="529.79" y="230.0" width="1" height="37.5" fill="#e8384b" opacity=".78"/>
<rect x="528.79" y="239.5" width="3.0" height="28.0" fill="#e8384b"/>
<rect x="533.69" y="216.7" width="1" height="50.3" fill="#089981" opacity=".78"/>
<rect x="532.69" y="233.7" width="3.0" height="33.3" fill="#089981"/>
<rect x="537.59" y="203.7" width="1" height="24.1" fill="#089981" opacity=".78"/>
<rect x="536.59" y="207.0" width="3.0" height="20.8" fill="#089981"/>
<rect x="541.48" y="177.0" width="1" height="41.0" fill="#089981" opacity=".78"/>
<rect x="540.48" y="205.8" width="3.0" height="12.2" fill="#089981"/>
<rect x="545.38" y="192.5" width="1" height="21.7" fill="#089981" opacity=".78"/>
<rect x="544.38" y="200.8" width="3.0" height="5.0" fill="#089981"/>
<rect x="549.28" y="161.7" width="1" height="39.1" fill="#089981" opacity=".78"/>
<rect x="548.28" y="166.3" width="3.0" height="34.5" fill="#089981"/>
<rect x="553.17" y="101.3" width="1" height="77.9" fill="#089981" opacity=".78"/>
<rect x="552.17" y="114.2" width="3.0" height="52.5" fill="#089981"/>
<rect x="557.07" y="77.2" width="1" height="49.1" fill="#089981" opacity=".78"/>
<rect x="556.07" y="90.0" width="3.0" height="24.7" fill="#089981"/>
<rect x="560.97" y="82.2" width="1" height="26.1" fill="#e8384b" opacity=".78"/>
<rect x="559.97" y="90.0" width="3.0" height="4.2" fill="#e8384b"/>
<rect x="564.86" y="86.2" width="1" height="17.1" fill="#089981" opacity=".78"/>
<rect x="563.86" y="93.8" width="3.0" height="1.2" fill="#089981"/>
<rect x="568.76" y="84.2" width="1" height="51.1" fill="#e8384b" opacity=".78"/>
<rect x="567.76" y="90.0" width="3.0" height="34.2" fill="#e8384b"/>
<rect x="572.66" y="99.5" width="1" height="24.7" fill="#089981" opacity=".78"/>
<rect x="571.66" y="112.2" width="3.0" height="12.0" fill="#089981"/>
<rect x="576.56" y="107.2" width="1" height="35.3" fill="#e8384b" opacity=".78"/>
<rect x="575.56" y="112.2" width="3.0" height="30.3" fill="#e8384b"/>
<rect x="580.45" y="120.3" width="1" height="28.0" fill="#089981" opacity=".78"/>
<rect x="579.45" y="140.3" width="3.0" height="2.5" fill="#089981"/>
<rect x="584.35" y="98.3" width="1" height="42.0" fill="#089981" opacity=".78"/>
<rect x="583.35" y="125.0" width="3.0" height="15.3" fill="#089981"/>
<rect x="588.25" y="105.3" width="1" height="28.5" fill="#089981" opacity=".78"/>
<rect x="587.25" y="125.5" width="3.0" height="8.3" fill="#089981"/>
<rect x="592.14" y="125.5" width="1" height="74.8" fill="#e8384b" opacity=".78"/>
<rect x="591.14" y="125.5" width="3.0" height="74.8" fill="#e8384b"/>
<rect x="596.04" y="170.0" width="1" height="32.5" fill="#089981" opacity=".78"/>
<rect x="595.04" y="175.3" width="3.0" height="27.2" fill="#089981"/>
<rect x="599.94" y="117.2" width="1" height="54.5" fill="#089981" opacity=".78"/>
<rect x="598.94" y="152.0" width="3.0" height="19.7" fill="#089981"/>
<rect x="603.83" y="120.0" width="1" height="35.5" fill="#089981" opacity=".78"/>
<rect x="602.83" y="154.2" width="3.0" height="1.3" fill="#089981"/>
<rect x="607.73" y="129.7" width="1" height="27.8" fill="#089981" opacity=".78"/>
<rect x="606.73" y="135.0" width="3.0" height="21.7" fill="#089981"/>
<rect x="611.63" y="131.3" width="1" height="25.0" fill="#e8384b" opacity=".78"/>
<rect x="610.63" y="138.3" width="3.0" height="18.0" fill="#e8384b"/>
<rect x="615.53" y="140.5" width="1" height="29.2" fill="#089981" opacity=".78"/>
<rect x="614.53" y="167.0" width="3.0" height="2.7" fill="#089981"/>
<rect x="619.42" y="156.3" width="1" height="20.7" fill="#e8384b" opacity=".78"/>
<rect x="618.42" y="173.8" width="3.0" height="3.2" fill="#e8384b"/>
<rect x="623.32" y="159.2" width="1" height="55.5" fill="#e8384b" opacity=".78"/>
<rect x="622.32" y="177.0" width="3.0" height="30.5" fill="#e8384b"/>
<rect x="627.22" y="177.5" width="1" height="29.5" fill="#089981" opacity=".78"/>
<rect x="626.22" y="193.8" width="3.0" height="13.2" fill="#089981"/>
<path d="M210.1 10.35 q1.55 -1.5 3.1 -0.25 t3.1 -0.25 M210.1 12.95 q1.55 -1.5 3.1 -0.25 t3.1 -0.25" fill="none" stroke="#e24a80" stroke-width="1.05" stroke-linecap="round"/>
<!-- lightning icon -->
<circle cx="628" cy="555" r="6.4" fill="#fff" stroke="#a23bbf" stroke-width="1.2"/>
<path d="M630.2 551.0 L625.2 555.7 L627.9 555.7 L626.0 559.2 L630.8 554.5 L628.2 554.5 Z" fill="#a23bbf"/>
<!-- flags stack -->
<g>
<circle cx="635.6" cy="571.7" r="6.5" fill="#fff" stroke="#e8485a" stroke-width="1.3"/>
<path d="M632 567.6h7.5M631 570.3h9.5M631 573h9.5M632 575.7h7.5" stroke="#ee8f99" stroke-width="1.3" stroke-dasharray="1.3 1"/>
<circle cx="631.5" cy="571.7" r="6.5" fill="#fff" stroke="#e8485a" stroke-width="1.3"/>
<path d="M628 567.6h7.5M627 570.3h9.5M627 573h9.5M628 575.7h7.5" stroke="#ee8f99" stroke-width="1.3" stroke-dasharray="1.3 1"/>
<circle cx="627.3" cy="571.7" r="6.5" fill="#fff" stroke="#e8485a" stroke-width="1.3"/>
<clipPath id="fc"><circle cx="627.3" cy="571.7" r="5.2"/></clipPath>
<g clip-path="url(#fc)">
<rect x="621" y="565" width="13" height="13" fill="#fff"/>
<rect x="621" y="570.6" width="13" height="2.0" fill="#e0606c"/>
<rect x="621" y="574.4" width="13" height="3" fill="#e0606c"/>
<rect x="621" y="566" width="13" height="1.2" fill="#efa0a8"/>
<rect x="621" y="565" width="6.3" height="7.6" fill="#5c9eea"/>
</g>
</g>
<!-- settings hex -->
<path d="M690.00 586.05 L694.11 588.42 L694.11 593.17 L690.00 595.55 L685.89 593.17 L685.89 588.42 Z" fill="none" stroke="#2a2e39" stroke-width="1"/>
<circle cx="690" cy="590.8" r="1.6" fill="none" stroke="#2a2e39" stroke-width="0.9"/>
<!-- pair flags in title -->
<g>
<clipPath id="in"><circle cx="13.5" cy="8.55" r="4.15"/></clipPath>
<g clip-path="url(#in)">
<rect x="9" y="4" width="10" height="3.6" fill="#f1a233"/>
<rect x="9" y="7.6" width="10" height="2.3" fill="#fff"/>
<rect x="9" y="9.9" width="10" height="3.2" fill="#35994e"/>
<circle cx="13.5" cy="8.7" r="0.9" fill="#5c6bc0"/>
</g>
<circle cx="9.9" cy="12.9" r="5.0" fill="#fff"/>
<clipPath id="us"><circle cx="9.9" cy="12.9" r="4.15"/></clipPath>
<g clip-path="url(#us)">
<rect x="5" y="8" width="10" height="10" fill="#fff"/>
<path d="M5 9.3h10M5 12.9h10M5 16.2h10" stroke="#d95c6a" stroke-width="1.7"/>
<rect x="5" y="8" width="5.4" height="5.6" fill="#4a9ceb"/>
</g>
</g>
</svg>
<div class="btn" id="sell"></div>
<div class="btn" id="buy"></div>
<svg id="txt" width="710" height="600" viewBox="0 0 710 600" style="position:absolute;left:0;top:0;will-change:transform;font-family:'Liberation Sans',sans-serif" text-rendering="geometricPrecision">
<text transform="translate(673.39,23.30) scale(0.8604,1)" font-size="8.9" fill="#131722">83.2000</text>
<text transform="translate(673.39,61.00) scale(0.8604,1)" font-size="8.9" fill="#131722">83.0000</text>
<text transform="translate(673.39,98.70) scale(0.8604,1)" font-size="8.9" fill="#131722">82.8000</text>
<text transform="translate(673.39,136.40) scale(0.8604,1)" font-size="8.9" fill="#131722">82.6000</text>
<text transform="translate(673.39,174.10) scale(0.8604,1)" font-size="8.9" fill="#131722">82.4000</text>
<text transform="translate(673.39,211.80) scale(0.8604,1)" font-size="8.9" fill="#131722">82.2000</text>
<text transform="translate(673.39,249.50) scale(0.8604,1)" font-size="8.9" fill="#131722">82.0000</text>
<text transform="translate(673.39,287.20) scale(0.8604,1)" font-size="8.9" fill="#131722">81.8000</text>
<text transform="translate(673.39,324.90) scale(0.8604,1)" font-size="8.9" fill="#131722">81.6000</text>
<text transform="translate(673.39,362.60) scale(0.8604,1)" font-size="8.9" fill="#131722">81.4000</text>
<text transform="translate(673.39,400.30) scale(0.8604,1)" font-size="8.9" fill="#131722">81.2000</text>
<text transform="translate(673.39,438.00) scale(0.8604,1)" font-size="8.9" fill="#131722">81.0000</text>
<text transform="translate(673.39,475.70) scale(0.8604,1)" font-size="8.9" fill="#131722">80.8000</text>
<text transform="translate(673.39,513.40) scale(0.8604,1)" font-size="8.9" fill="#131722">80.6000</text>
<text transform="translate(673.39,551.10) scale(0.8604,1)" font-size="8.9" fill="#131722">80.4000</text>
<text transform="translate(-2.17,593.00) scale(0.7941,1)" font-size="8.9" fill="#131722">Nov</text>
<text transform="translate(83.12,593.00) scale(0.8102,1)" font-size="8.9" fill="#131722">Dec</text>
<text transform="translate(166.55,593.00) scale(0.9216,1)" font-size="8.9" fill="#131722" font-weight="bold">2023</text>
<text transform="translate(253.97,593.00) scale(0.8880,1)" font-size="8.9" fill="#131722">Feb</text>
<text transform="translate(332.41,593.00) scale(0.8346,1)" font-size="8.9" fill="#131722">Mar</text>
<text transform="translate(423.10,593.00) scale(0.8593,1)" font-size="8.9" fill="#131722">Apr</text>
<text transform="translate(499.49,593.00) scale(0.8633,1)" font-size="8.9" fill="#131722">May</text>
<text transform="translate(586.83,593.00) scale(0.8213,1)" font-size="8.9" fill="#131722">Jun</text>
<text transform="translate(654.53,593.00) scale(0.8213,1)" font-size="8.9" fill="#131722">26</text>
<text transform="translate(20.17,15.00) scale(0.7883,1)" font-size="11.5" fill="#131722" stroke="#131722" stroke-width="0.25">U.S.</text>
<text transform="translate(42.16,15.00) scale(0.9079,1)" font-size="11.5" fill="#131722" stroke="#131722" stroke-width="0.25">Dollar</text>
<text transform="translate(74.40,15.00) scale(0.9938,1)" font-size="11.5" fill="#131722" stroke="#131722" stroke-width="0.25">/</text>
<text transform="translate(81.89,15.00) scale(0.8837,1)" font-size="11.5" fill="#131722" stroke="#131722" stroke-width="0.25">Indian</text>
<text transform="translate(113.33,15.00) scale(0.8385,1)" font-size="11.5" fill="#131722" stroke="#131722" stroke-width="0.25">Rupee</text>
<text transform="translate(143.00,15.00) scale(1.4229,1)" font-size="11.5" fill="#131722" stroke="#131722" stroke-width="0.25">·</text>
<text transform="translate(149.77,15.00) scale(0.7831,1)" font-size="11.5" fill="#131722" stroke="#131722" stroke-width="0.25">1D</text>
<text transform="translate(162.80,15.00) scale(1.4229,1)" font-size="11.5" fill="#131722" stroke="#131722" stroke-width="0.25">·</text>
<text transform="translate(169.50,15.00) scale(0.7736,1)" font-size="11.5" fill="#131722" stroke="#131722" stroke-width="0.25">ICE</text>
<text transform="translate(230.37,14.90) scale(0.9524,1)" font-size="8.7" fill="#131722" font-weight="bold">O</text>
<text transform="translate(236.67,14.90) scale(0.9614,1)" font-size="8.7" fill="#089981">82.2090</text>
<text transform="translate(270.79,14.90) scale(0.9770,1)" font-size="8.7" fill="#131722" font-weight="bold">H</text>
<text transform="translate(276.88,14.90) scale(0.9289,1)" font-size="8.7" fill="#089981">82.3675</text>
<text transform="translate(310.08,14.90) scale(0.8024,1)" font-size="8.7" fill="#131722" font-weight="bold">L</text>
<text transform="translate(314.88,14.90) scale(0.9192,1)" font-size="8.7" fill="#089981">82.2090</text>
<text transform="translate(349.06,14.90) scale(0.6792,1)" font-size="8.7" fill="#131722" font-weight="bold">C</text>
<text transform="translate(354.58,14.90) scale(0.9321,1)" font-size="8.7" fill="#089981">82.2780</text>
<text transform="translate(388.67,14.90) scale(0.9380,1)" font-size="8.7" fill="#089981">+0.0690</text>
<text transform="translate(420.63,14.90) scale(0.8913,1)" font-size="8.7" fill="#089981">(+0.08%)</text>
<text transform="translate(10.16,33.50) scale(0.9646,1)" font-size="8.7" fill="#e8384b">82.2780</text>
<text transform="translate(71.97,33.50) scale(0.9614,1)" font-size="8.7" fill="#2962ff">82.3280</text>
<text transform="translate(50.42,32.90) scale(0.9339,1)" font-size="7.6" fill="#131722">500</text>
<text transform="translate(6.30,52.60) scale(0.9175,1)" font-size="8.7" fill="#131722">Vol</text>
<text transform="translate(25.91,52.60) scale(1.1025,1)" font-size="8.7" fill="#089981">0</text>
<text transform="translate(32.02,571.10) scale(0.9927,1)" font-size="14.2" fill="#131722" stroke="#131722" stroke-width="0.5">TradingView</text>
<rect x="668.2" y="188.2" width="39" height="21" rx="1.6" fill="#089981"/>
<text transform="translate(673.70,197.25) scale(0.8806,1)" font-size="8.6" fill="#fff">82.2780</text><text transform="translate(673.77,206.80) scale(0.9269,1)" font-size="8.2" fill="#d4f0ea">17:43:51</text>
</svg>
<svg id="logo" width="19.1" height="15.4" viewBox="0 0 36 28" preserveAspectRatio="none"><path d="M14 22H7V11H0V4h14v18zM28 22h-8l7.5-18h8L28 22z" fill="#131722"/><circle cx="20" cy="8" r="4" fill="#131722"/></svg>
</body></html>
